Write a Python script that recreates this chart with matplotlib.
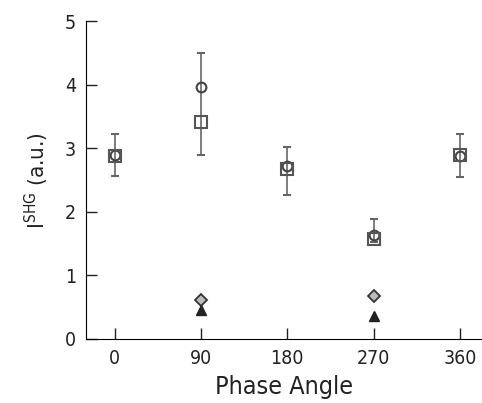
import matplotlib
matplotlib.use("Agg")
import matplotlib.pyplot as plt

plt.rcParams['font.family'] = ['DejaVu Sans']
plt.rcParams['font.stretch'] = 'condensed'
plt.rcParams['mathtext.fontset'] = 'custom'
plt.rcParams['mathtext.rm'] = 'DejaVu Sans:stretch=condensed'

# Data
phase = [0, 90, 180, 270, 360]
square_vals = [2.88, 3.42, 2.67, 1.58, 2.90]
square_err_lo = [0.32, 0.52, 0.40, 0.05, 0.35]
square_err_hi = [0.34, 1.08, 0.35, 0.31, 0.33]
circle_phase = [0, 90, 180, 270, 360]
circle_vals = [2.90, 3.97, 2.73, 1.64, 2.88]
low_phase = [90, 270]
low_diamond = [0.61, 0.67]
low_triangle = [0.45, 0.36]

xticks = [0, 90, 180, 270, 360]
yticks = [0, 1, 2, 3, 4, 5]

fig = plt.figure(figsize=(4.82, 4.03), dpi=100)
ax = fig.add_axes([0.178, 0.159, 0.822, 0.788])

ax.errorbar(phase, square_vals, yerr=[square_err_lo, square_err_hi], fmt='s',
            mfc='none', mec='#555555', ms=9, mew=1.5, ecolor='#666666',
            elinewidth=1.2, capsize=3, capthick=2.5)
ax.plot(circle_phase, circle_vals, 'o', mfc='none', mec='#444444', ms=7, mew=1.5)
ax.plot(low_phase, low_diamond, 'D', mfc='#bbbbbb', mec='#333333', ms=6, mew=1.3)
ax.plot(low_phase, low_triangle, '^', color='#222222', ms=7)

ax.set_xlim(-30, 383)
ax.set_ylim(0, 5)
ax.set_xticks(xticks)
ax.set_yticks(yticks)
ax.tick_params(direction='in', length=8, width=1, labelsize=14, pad=7, colors='#222222')
for s in ['top', 'right']:
    ax.spines[s].set_visible(False)
ax.set_xlabel('Phase Angle', fontsize=18, labelpad=5, color='#222222')
ax.set_ylabel(r'I$^{\rm SHG}$ (a.u.)', fontsize=16, labelpad=10, color='#222222')

fig.savefig('out.png', dpi=100)
